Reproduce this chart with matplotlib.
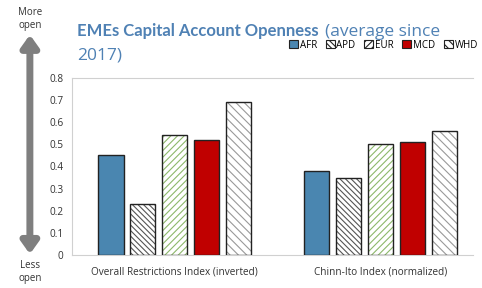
import numpy as np
import matplotlib
matplotlib.use("Agg")
import matplotlib.pyplot as plt
from matplotlib.patches import Patch, FancyArrowPatch

plt.rcParams["font.family"] = ["Open Sans", "DejaVu Sans"]
plt.rcParams["hatch.linewidth"] = 0.8

categories = ["Overall Restrictions Index (inverted)", "Chinn-Ito Index (normalized)"]
regions = ["AFR", "APD", "EUR", "MCD", "WHD"]
values = {
    "AFR": [0.45, 0.38],
    "APD": [0.23, 0.35],
    "EUR": [0.54, 0.50],
    "MCD": [0.52, 0.51],
    "WHD": [0.69, 0.56],
}

# fill colour, hatch, hatch colour
styles = {
    "AFR": ("#4A86B0", None, None),
    "APD": ("white", "\\\\\\\\\\\\", "#555555"),
    "EUR": ("white", "/////", "#8DB86B"),
    "MCD": ("#C00000", None, None),
    "WHD": ("white", "\\\\\\\\", "#999999"),
}

title_color = "#4F81B4"

fig = plt.figure(figsize=(4.82, 2.88), dpi=100)
ax = fig.add_axes([0.149, 0.1146, 0.832, 0.615])

x = np.arange(len(categories))
step = 0.155
width = 0.122
for i, r in enumerate(regions):
    pos = x + (i - 2) * step
    face, hatch, hcol = styles[r]
    if hatch:
        ax.bar(pos, values[r], width, color=face, hatch=hatch,
               edgecolor=hcol, linewidth=0, zorder=2)
        ax.bar(pos, values[r], width, fill=False, edgecolor="#222222",
               linewidth=1.0, zorder=3)
    else:
        ax.bar(pos, values[r], width, color=face, edgecolor="#222222",
               linewidth=1.0, zorder=3)

ax.set_xlim(-0.5, 1.447)
ax.set_ylim(0, 0.8)
ax.set_yticks(np.arange(0, 0.81, 0.1))
ax.set_yticklabels(["0"] + [f"{v:.1f}" for v in np.arange(0.1, 0.81, 0.1)])
ax.set_xticks(x)
ax.set_xticklabels(categories)
ax.tick_params(axis="both", length=0, labelsize=7.2, colors="#333333", pad=6)
ax.tick_params(axis="x", pad=8)
for s in ["left", "top", "bottom"]:
    ax.spines[s].set_color("#d0d0d0")
    ax.spines[s].set_linewidth(0.8)
ax.spines["right"].set_visible(False)

# title, bold part followed by the normal part on the same line
fig.canvas.draw()
renderer = fig.canvas.get_renderer()
t1 = fig.text(0.160, 0.875, "EMEs Capital Account Openness", fontsize=12,
              fontweight="bold", color=title_color, ha="left", va="baseline",
              family=["Lato", "DejaVu Sans"])
bb = t1.get_window_extent(renderer).transformed(fig.transFigure.inverted())
fig.text(bb.x1 + 0.012, 0.875, "(average since", fontsize=12.5,
         color=title_color, ha="left", va="baseline")
fig.text(0.160, 0.795, "2017)", fontsize=12.5,
         color=title_color, ha="left", va="baseline")

# legend
handles = []
for r in regions:
    face, hatch, hcol = styles[r]
    handles.append(Patch(facecolor=face, hatch=hatch, edgecolor="#222222",
                         linewidth=0.8, label=r))
fig.legend(handles=handles, loc="center right", bbox_to_anchor=(1.01, 0.843),
           ncol=5, frameon=False, fontsize=7, handlelength=0.9, handleheight=0.9,
           handletextpad=0.2, columnspacing=0.9)

# openness arrow
arrow = FancyArrowPatch((0.062, 0.108), (0.062, 0.889), transform=fig.transFigure,
                        arrowstyle="<|-|>,head_length=7,head_width=5",
                        color="#7f7f7f", linewidth=5, mutation_scale=1)
fig.patches.append(arrow)
fig.text(0.062, 0.935, "More\nopen", fontsize=7, color="#333333",
         ha="center", va="center", linespacing=1.3)
fig.text(0.062, 0.055, "Less\nopen", fontsize=7, color="#333333",
         ha="center", va="center", linespacing=1.3)

fig.savefig("out.png", dpi=100)
